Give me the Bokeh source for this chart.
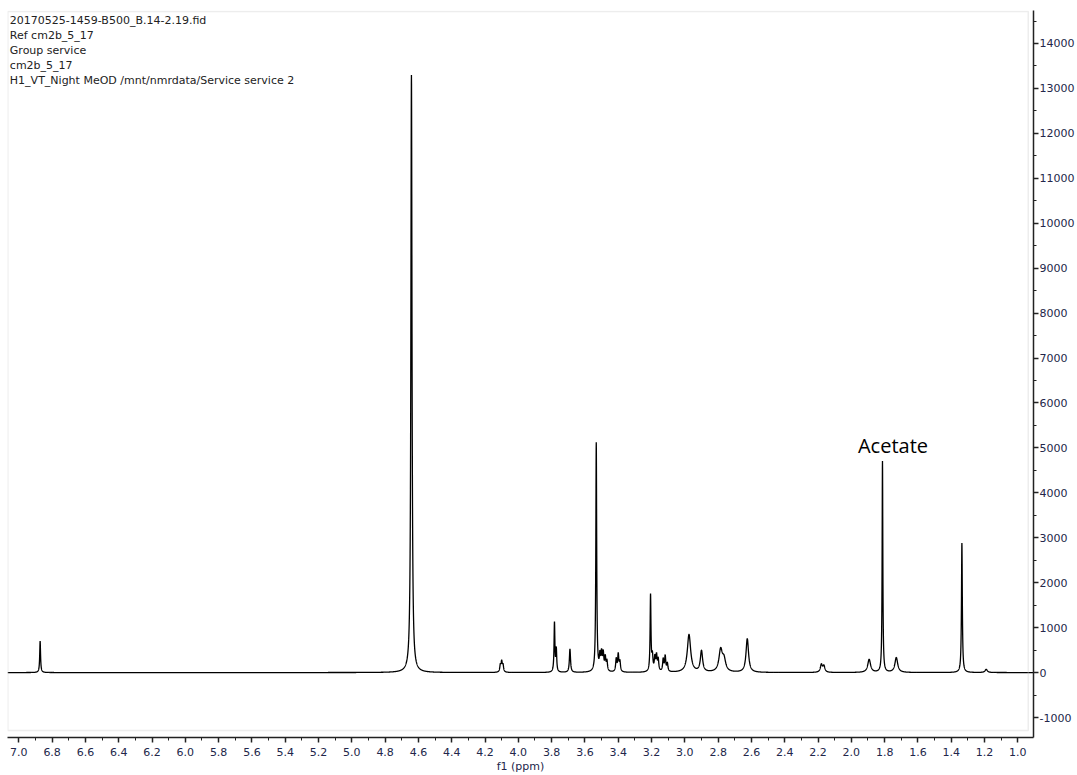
import numpy as np
from bokeh.plotting import figure
from bokeh.models import (Range1d, SingleIntervalTicker, PrintfTickFormatter,
                          BoxAnnotation, ColumnDataSource)
from bokeh.core.properties import value
from bokeh.embed import file_html
from bokeh.resources import INLINE

# ---- data ----
# peak centres (ppm), heights (intensity), half-widths at half max (ppm)
peak_ppm = [6.872, 4.642, 4.108, 4.100, 4.092, 3.783, 3.772, 3.690, 3.532,
            3.510, 3.500, 3.490, 3.478, 3.468, 3.412, 3.400, 3.390,
            3.206, 3.195, 3.180, 3.170, 3.160, 3.130, 3.118, 3.105,
            2.975, 2.900, 2.785, 2.765, 2.625, 2.180, 2.165,
            1.893, 1.813, 1.730, 1.336, 1.190]
peak_height = [700, 13300, 150, 220, 150, 1100, 500, 520, 5100,
               330, 380, 380, 300, 220, 280, 380, 220,
               1700, 330, 300, 340, 260, 270, 340, 180,
               840, 470, 480, 260, 750, 170, 140,
               290, 4700, 330, 2880, 70]
peak_hwhm = [0.003, 0.004, 0.004, 0.004, 0.004, 0.003, 0.003, 0.004, 0.003,
             0.004, 0.004, 0.004, 0.004, 0.004, 0.004, 0.004, 0.004,
             0.003, 0.004, 0.004, 0.004, 0.004, 0.004, 0.004, 0.004,
             0.012, 0.008, 0.012, 0.012, 0.009, 0.007, 0.007,
             0.010, 0.0025, 0.010, 0.003, 0.008]

header_lines = ["20170525-1459-B500_B.14-2.19.fid",
                "Ref cm2b_5_17",
                "Group service",
                "cm2b_5_17",
                "H1_VT_Night MeOD /mnt/nmrdata/Service service 2"]
annotation_text = "Acetate"
annotation_ppm = 1.75
annotation_int = 5050

x_lo, x_hi = 7.068, 0.906
y_lo, y_hi = -1445, 14734

# spectrum built from the read peak list (Lorentzian lines)
ppm = np.arange(x_hi, x_lo, 0.0005)
intensity = np.zeros_like(ppm)
for c, h, w in zip(peak_ppm, peak_height, peak_hwhm):
    intensity += h * w * w / ((ppm - c) ** 2 + w * w)

p = figure(width=1077, height=775, output_backend="svg", toolbar_location=None,
           x_range=Range1d(x_lo, x_hi), y_range=Range1d(y_lo, y_hi),
           y_axis_location="right",
           min_border_left=7, min_border_top=10, min_border_right=44,
           min_border_bottom=38)
p.outline_line_color = None
p.xgrid.visible = False
p.ygrid.visible = False
p.background_fill_color = "white"
p.border_fill_color = "white"

# gray inner frame
p.add_layout(BoxAnnotation(left=7.066, right=0.9375, top=14712, bottom=-1289,
                           fill_alpha=0, line_color="#c4c4c4", line_width=1.5))

p.line(ppm, intensity, line_color="black", line_width=1.3)

label_font = "DejaVu Sans"
tick_color = "#22264a"

xa = p.xaxis[0]
xa.ticker = SingleIntervalTicker(interval=0.2, num_minor_ticks=2)
xa.formatter = PrintfTickFormatter(format="%.1f")
xa.axis_label = "f1 (ppm)"
xa.axis_label_text_font = label_font
xa.axis_label_text_font_style = "normal"
xa.axis_label_text_font_size = "11px"
xa.axis_label_text_color = tick_color
xa.axis_label_standoff = 1
xa.major_label_text_font = label_font
xa.major_label_text_font_size = "11px"
xa.major_label_text_color = tick_color
xa.major_label_standoff = 5
xa.major_tick_out = 5
xa.major_tick_in = 0
xa.minor_tick_out = 3
xa.minor_tick_in = 0
xa.axis_line_width = 1.5
xa.axis_line_color = "#222222"
xa.major_tick_line_width = 1.5
xa.major_tick_line_color = "#222222"
xa.minor_tick_line_color = "#222222"

ya = p.yaxis[0]
ya.ticker = SingleIntervalTicker(interval=1000, num_minor_ticks=2)
ya.formatter = PrintfTickFormatter(format="%d")
ya.major_label_text_font = label_font
ya.major_label_text_font_size = "11px"
ya.major_label_text_color = tick_color
ya.major_label_standoff = 1
ya.major_tick_out = 5
ya.major_tick_in = 0
ya.minor_tick_out = 3
ya.minor_tick_in = 0
ya.axis_line_width = 1.5
ya.axis_line_color = "#222222"
ya.major_tick_line_width = 1.5
ya.major_tick_line_color = "#222222"
ya.minor_tick_line_color = "#222222"

# header text (pixel rows 20.5 + 15*i converted to data units)
px_per_unit = 0.044933
zero_px = 672.07
hy = [(zero_px - (20.5 + 15 * i)) / px_per_unit for i in range(len(header_lines))]
hsrc = ColumnDataSource(dict(x=[7.054] * len(header_lines), y=hy, t=header_lines))
p.text(x="x", y="y", text="t", source=hsrc, text_font=value(label_font),
       text_font_size="11px", text_color="#222222", text_baseline="middle",
       text_align="left")

p.text(x=[annotation_ppm], y=[annotation_int], text=[annotation_text],
       text_font=value("Open Sans"), text_font_size="20px", text_color="black",
       text_baseline="middle", text_align="center")

open("out.html", "w").write(file_html(p, INLINE))
